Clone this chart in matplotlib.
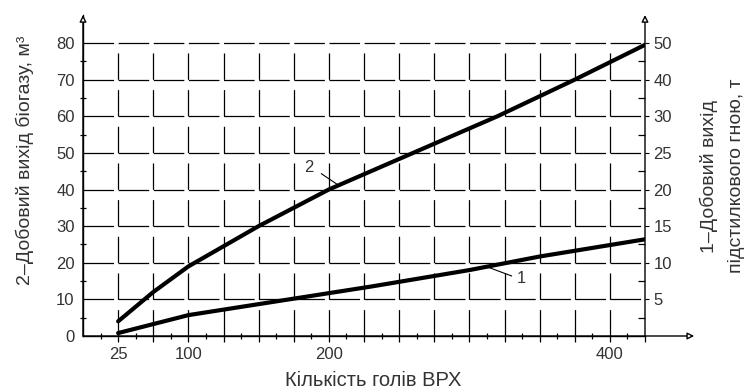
import matplotlib
matplotlib.use("Agg")
import matplotlib.pyplot as plt

# Data (x in chart scale units; the "25" label sits on the first grid line)
x_heads = [50, 75, 100, 150, 200, 260, 320, 375, 425]
biogas = [4, 12, 19, 30, 40, 50, 60, 70, 79.5]            # curve 2, left axis, m3
manure_x = [50, 100, 200, 230, 300, 350, 425]
manure = [0.8, 5.7, 11.7, 13.5, 18, 21.7, 26.4]            # curve 1, drawn in left-axis units

x_tick_pos = [50, 100, 200, 400]
x_tick_labels = ["25", "100", "200", "400"]
left_ticks = [0, 10, 20, 30, 40, 50, 60, 70, 80]
right_ticks = [10, 20, 30, 40, 50, 60, 70, 80]
right_labels = ["5", "10", "15", "20", "25", "30", "40", "50"]

plt.rcParams['font.family'] = ['Liberation Sans', 'DejaVu Sans']
plt.rcParams['lines.scale_dashes'] = False
txt = "#333333"

fig = plt.figure(figsize=(7.49, 3.92), dpi=100)
W, H = 749, 392
x0, x1 = 83, 645
y0, ytop = 336, 15
ax = fig.add_axes([x0 / W, (H - y0) / H, (x1 - x0) / W, (y0 - ytop) / H])

xmin, xmax = 25, 425
ymax = 80 * (y0 - ytop) / (y0 - 43)
ax.set_xlim(xmin, xmax)
ax.set_ylim(0, ymax)

for s in ["top", "right"]:
    ax.spines[s].set_visible(False)
for s in ["left", "bottom"]:
    ax.spines[s].set_linewidth(1.0)

# grid
grid_x = list(range(50, 425, 25))
ax.hlines(left_ticks[1:], xmin, xmax, colors="black", linewidth=0.9,
          linestyles=[(0, (22, 3.3))])
ax.vlines(grid_x, 0, 80, colors="black", linewidth=0.9,
          linestyles=[(0, (19, 7.4))])

# axis lines with open arrow heads
arrow = dict(arrowstyle="-|>", color="black", lw=1.0, fc="white",
             mutation_scale=10, shrinkA=0, shrinkB=0)
ax.annotate("", xy=(xmax, ymax), xytext=(xmax, 0), arrowprops=arrow,
            annotation_clip=False)
ax.annotate("", xy=(xmin, ymax), xytext=(xmin, 0), arrowprops=arrow,
            annotation_clip=False)
ax.annotate("", xy=(460, 0), xytext=(xmin, 0), arrowprops=arrow,
            annotation_clip=False)

# curves
ax.plot(x_heads, biogas, color="black", lw=3.0, solid_capstyle="round")
ax.plot(manure_x, manure, color="black", lw=3.0, solid_capstyle="round")

# curve labels with leader lines
ax.plot([194.7, 207.5], [44.3, 41], color="black", lw=0.8)
ax.text(186, 45.9, "2", fontsize=12, color=txt, ha="center", va="center")
ax.plot([312.5, 330], [18.9, 16.4], color="black", lw=0.8)
ax.text(337, 15.8, "1", fontsize=12, color=txt, ha="center", va="center")

# ticks
ax.set_xticks(grid_x + [425], [""] * (len(grid_x) + 1))
ax.set_xticks([v + 12.5 for v in [25] + grid_x], minor=True)
ax.tick_params(axis="x", which="major", direction="out", length=4, width=0.9)
ax.tick_params(axis="x", which="minor", direction="inout", length=5, width=0.9)
sec = ax.secondary_xaxis("bottom")
sec.set_xticks(x_tick_pos, x_tick_labels)
sec.tick_params(length=0, labelsize=12, labelcolor=txt, pad=8)
sec.spines["bottom"].set_visible(False)

ax.set_yticks(left_ticks)
ax.set_yticks([v + 5 for v in left_ticks[:-1]], minor=True)
ax.tick_params(axis="y", which="major", length=0, labelsize=12, labelcolor=txt, pad=6)
ax.tick_params(axis="y", which="minor", direction="inout", length=5, width=0.9)

ax2 = ax.twinx()
ax2.set_ylim(ax.get_ylim())
for s in ["top", "left", "bottom", "right"]:
    ax2.spines[s].set_visible(False)
ax2.set_yticks(right_ticks, right_labels)
ax2.set_yticks([v + 5 for v in left_ticks[:-1]], minor=True)
ax2.tick_params(axis="y", which="major", direction="out", length=3, labelsize=12,
                labelcolor=txt, pad=3)
ax2.tick_params(axis="y", which="minor", direction="in", length=5, width=0.9)

# axis titles
fig.text(25 / W, 1 - 160 / H, "2\u2013Добовий вихід біогазу, м³", rotation=90,
         ha="center", va="center", fontsize=14, color=txt)
fig.text(722 / W, 1 - 176 / H, "1\u2013Добовий вихід\nпідстилкового гною, т",
         rotation=90, ha="center", va="center", fontsize=14, color=txt,
         multialignment="center", linespacing=1.75)
fig.text(373 / W, 1 - 380 / H, "Кількість голів ВРХ", ha="center", va="center",
         fontsize=14.5, color=txt)

fig.savefig("out.png", dpi=100)
